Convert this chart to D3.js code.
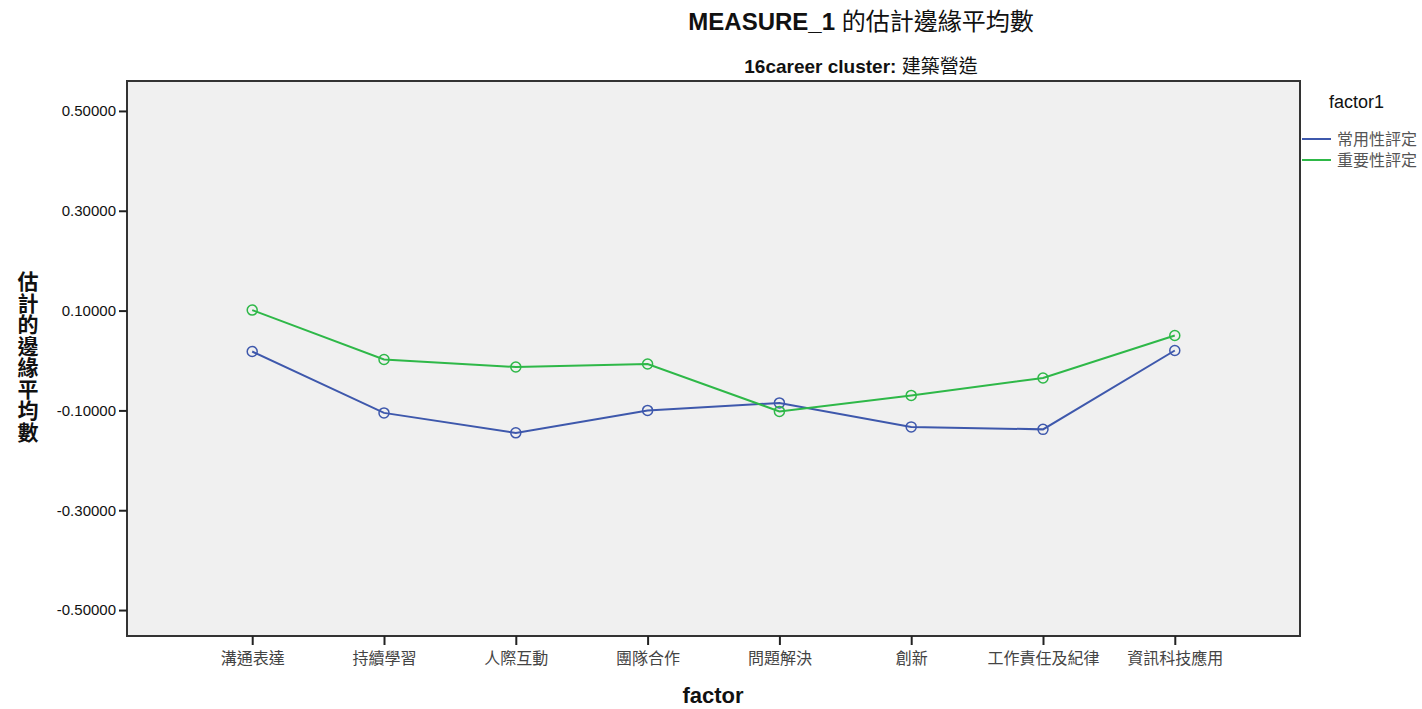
<!DOCTYPE html>
<html>
<head>
<meta charset="utf-8">
<script src="https://cdn.jsdelivr.net/npm/d3@7"></script>
<style>
body { margin: 0; background: #fff; }
text { font-family: "Liberation Sans", Arial, "Noto Sans CJK TC", sans-serif; }
</style>
</head>
<body>
<svg id="chart" width="1422" height="709"></svg>
<script>
// data
var factors = ['溝通表達', '持續學習', '人際互動', '團隊合作', '問題解決', '創新', '工作責任及紀律', '資訊科技應用']
var usage = [0.018, -0.105, -0.145, -0.100, -0.085, -0.133, -0.138, 0.020]
var importance = [0.101, 0.002, -0.013, -0.007, -0.102, -0.070, -0.035, 0.050]
var seriesNames = ['常用性評定', '重要性評定']
var seriesColors = ['#3E58AC', '#2EB848']
var yTicks = [0.5, 0.3, 0.1, -0.1, -0.3, -0.5]

var svg = d3.select('#chart')
var plotLeft = 127, plotRight = 1300, plotTop = 81, plotBottom = 636

var x = d3.scalePoint().domain(factors).range([plotLeft, plotRight]).padding(0.95)
var y = d3.scaleLinear().domain([-0.552, 0.56]).range([plotBottom, plotTop])

// plot background + frame
svg.append('rect')
	.attr('x', plotLeft).attr('y', plotTop)
	.attr('width', plotRight - plotLeft).attr('height', plotBottom - plotTop)
	.attr('fill', '#f0f0f0')
	.attr('stroke', '#333').attr('stroke-width', 2)

// y axis
var yAxis = d3.axisLeft(y).tickValues(yTicks).tickSize(8).tickPadding(3)
var gy = svg.append('g').attr('transform', 'translate(' + plotLeft + ',0)').call(yAxis)
gy.select('.domain').remove()
gy.selectAll('.tick line').attr('stroke', '#222').attr('stroke-width', 2)
gy.selectAll('.tick text').attr('font-size', 15).attr('fill', '#111')
	.text(function(d){ return d3.format('.5f')(d).replace('−', '-') })

// x axis
var xAxis = d3.axisBottom(x).tickSize(9).tickPadding(8)
var gx = svg.append('g').attr('transform', 'translate(0,' + plotBottom + ')').call(xAxis)
gx.select('.domain').remove()
gx.selectAll('.tick line').attr('stroke', '#222').attr('stroke-width', 2)
gx.selectAll('.tick text').attr('font-size', 16).attr('fill', '#444')

// lines
var all = [usage, importance]
var line = d3.line()
	.x(function(d, i){ return x(factors[i]) })
	.y(function(d){ return y(d) })

all.forEach(function(vals, s){
	svg.append('path')
		.datum(vals)
		.attr('d', line)
		.attr('fill', 'none')
		.attr('stroke', seriesColors[s])
		.attr('stroke-width', 2)
	svg.selectAll('.pt' + s)
		.data(vals)
		.enter().append('circle')
		.attr('class', 'pt' + s)
		.attr('cx', function(d, i){ return x(factors[i]) })
		.attr('cy', function(d){ return y(d) })
		.attr('r', 5)
		.attr('fill', 'none')
		.attr('stroke', seriesColors[s])
		.attr('stroke-width', 1.5)
})

// titles (latin part bold, CJK part regular like the original)
var t1 = svg.append('text').attr('x', 861).attr('y', 30)
	.attr('text-anchor', 'middle').attr('font-size', 24).attr('fill', '#111')
t1.append('tspan').attr('font-weight', 'bold').text('MEASURE_1 ')
t1.append('tspan').text('的估計邊緣平均數')

var t2 = svg.append('text').attr('x', 861).attr('y', 73)
	.attr('text-anchor', 'middle').attr('font-size', 19).attr('fill', '#111')
t2.append('tspan').attr('font-weight', 'bold').text('16career cluster: ')
t2.append('tspan').text('建築營造')

// y axis title, stacked chars
var ytitle = '估計的邊緣平均數'.split('')
svg.selectAll('.ytitle')
	.data(ytitle)
	.enter().append('text')
	.attr('x', 28)
	.attr('y', function(d, i){ return 289 + i * 21.5 })
	.attr('text-anchor', 'middle')
	.attr('font-size', 21).attr('font-weight', 'bold').attr('fill', '#111')
	.text(function(d){ return d })

svg.append('text').attr('x', 713).attr('y', 703)
	.attr('text-anchor', 'middle').attr('font-size', 22).attr('font-weight', 'bold').attr('fill', '#111')
	.text('factor')

// legend
svg.append('text').attr('x', 1329).attr('y', 108)
	.attr('font-size', 18).attr('fill', '#111').text('factor1')
seriesNames.forEach(function(name, s){
	var ly = 139 + s * 21
	svg.append('line').attr('x1', 1302).attr('x2', 1331).attr('y1', ly).attr('y2', ly)
		.attr('stroke', seriesColors[s]).attr('stroke-width', 2)
	svg.append('text').attr('x', 1337).attr('y', ly + 6)
		.attr('font-size', 16).attr('fill', '#555').text(name)
})
</script>
</body>
</html>
